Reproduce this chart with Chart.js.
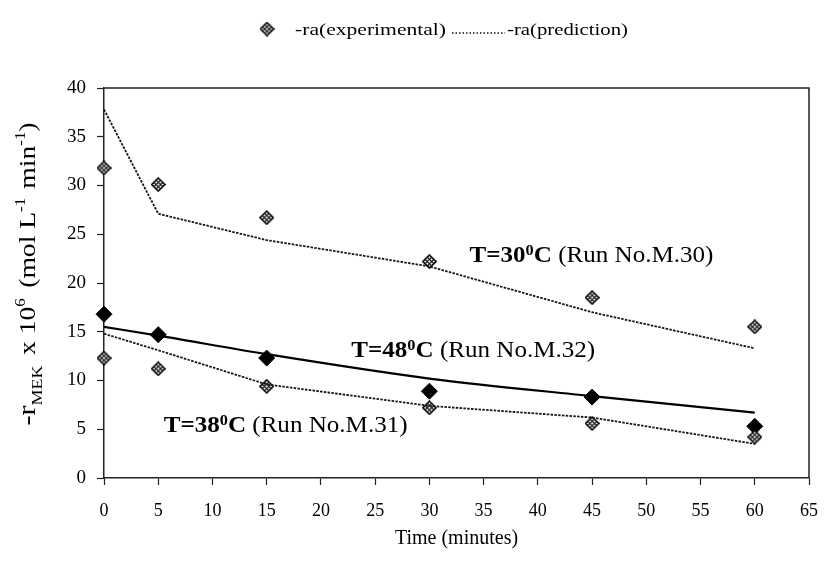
<!DOCTYPE html>
<html>
<head>
<meta charset="utf-8">
<script src="https://cdn.jsdelivr.net/npm/chart.js@4.4.0/dist/chart.umd.min.js"></script>
<style>
  html, body { margin: 0; padding: 0; background: #fff; }
  #wrap { width: 833px; height: 561px; }
</style>
</head>
<body>
<div id="wrap"><canvas id="c" width="833" height="561"></canvas></div>
<script>
// Sampling times (minutes)
const times = [0, 5, 15, 30, 45, 60];

// T = 30 °C (Run No. M.30)
const exp30  = [31.8, 30.1, 26.7, 22.2, 18.5, 15.5];
const pred30 = [37.8, 27.1, 24.4, 21.7, 17.0, 13.3];

// T = 38 °C (Run No. M.31)
const exp38  = [12.3, 11.2, 9.4, 7.2, 5.6, 4.2];
const pred38 = [14.8, 13.1, 9.6, 7.4, 6.2, 3.5];

// T = 48 °C (Run No. M.32)
const exp48  = [16.8, 14.7, 12.3, 8.9, 8.3, 5.3];
const fit48  = [15.5, 14.6, 12.7, 10.2, 8.4, 6.7];

// Axis ticks
const xTicks = [0, 5, 10, 15, 20, 25, 30, 35, 40, 45, 50, 55, 60, 65];
const yTicks = [0, 5, 10, 15, 20, 25, 30, 35, 40];

// Run labels placed in data coordinates
const runTemps = ['30', '48', '38'];
const runIds   = ['M.30', 'M.32', 'M.31'];
const runX     = [33.7, 22.8, 5.5];
const runY     = [22.2, 12.4, 4.7];

const SERIF = '"Liberation Serif", "Times New Roman", serif';

function pts(ys) { return times.map((t, i) => ({ x: t, y: ys[i] })); }

// Cross-hatched diamond marker
function hatchDiamond(size) {
  const c = document.createElement('canvas');
  c.width = c.height = size;
  const g = c.getContext('2d');
  const m = size / 2, r = size / 2 - 1;
  const path = () => {
    g.beginPath();
    g.moveTo(m, m - r); g.lineTo(m + r, m); g.lineTo(m, m + r); g.lineTo(m - r, m);
    g.closePath();
  };
  path();
  g.fillStyle = '#fff'; g.fill();
  g.save(); path(); g.clip();
  g.strokeStyle = '#000'; g.lineWidth = 1.1;
  for (const k of [-r / 3, r / 3]) {
    g.beginPath();
    g.moveTo(m + k / 2 - r, m - k / 2 - r); g.lineTo(m + k / 2 + r, m - k / 2 + r);
    g.stroke();
    g.beginPath();
    g.moveTo(m + k / 2 - r, m + k / 2 + r); g.lineTo(m + k / 2 + r, m + k / 2 - r);
    g.stroke();
  }
  g.restore();
  path();
  g.strokeStyle = '#000'; g.lineWidth = 1.6; g.stroke();
  return c;
}
const hatchMark = hatchDiamond(15);

// Draws a run of text pieces (with sub/superscripts) stretched horizontally
function richWidth(ctx, parts) {
  let w = 0;
  for (const p of parts) { ctx.font = p.font; w += ctx.measureText(p.text).width + (p.gap || 0); }
  return w;
}
function drawRich(ctx, parts, x, y, stretch) {
  ctx.save();
  ctx.translate(x, y);
  ctx.scale(stretch, 1);
  ctx.textAlign = 'left';
  ctx.textBaseline = 'alphabetic';
  ctx.fillStyle = '#000';
  let cx = 0;
  for (const p of parts) {
    ctx.font = p.font;
    ctx.fillText(p.text, cx, p.dy || 0);
    cx += ctx.measureText(p.text).width + (p.gap || 0);
  }
  ctx.restore();
}

const decorPlugin = {
  id: 'decor',
  afterDatasetsDraw(chart) {
    const { ctx, chartArea: a, scales } = chart;
    // box frame around the plot
    ctx.save();
    ctx.strokeStyle = '#222';
    ctx.lineWidth = 1.5;
    ctx.beginPath();
    ctx.moveTo(a.left, a.top); ctx.lineTo(a.right, a.top); ctx.lineTo(a.right, a.bottom);
    ctx.stroke();
    ctx.restore();

    // run labels
    for (let i = 0; i < runTemps.length; i++) {
      const px = scales.x.getPixelForValue(runX[i]);
      const py = scales.y.getPixelForValue(runY[i]);
      drawRich(ctx, [
        { text: 'T=' + runTemps[i], font: 'bold 23px ' + SERIF },
        { text: '0', font: 'bold 15px ' + SERIF, dy: -7 },
        { text: 'C', font: 'bold 23px ' + SERIF },
        { text: ' (Run No.' + runIds[i] + ')', font: '23px ' + SERIF }
      ], px, py, 1.09);
    }
  },
  afterDraw(chart) {
    const { ctx } = chart;
    // y-axis title, rotated
    const parts = [
      { text: '-r', font: '25px ' + SERIF },
      { text: 'MEK', font: '15px ' + SERIF, dy: 7, gap: 3 },
      { text: ' x 10', font: '23px ' + SERIF },
      { text: '6', font: '14px ' + SERIF, dy: -10, gap: 3 },
      { text: ' (mol L', font: '23px ' + SERIF },
      { text: '-1', font: '14px ' + SERIF, dy: -10, gap: 2 },
      { text: ' min', font: '23px ' + SERIF },
      { text: '-1', font: '14px ' + SERIF, dy: -10 },
      { text: ')', font: '23px ' + SERIF }
    ];
    const stretch = 1.2;
    const w = richWidth(ctx, parts) * stretch;
    ctx.save();
    ctx.translate(35, 274);
    ctx.rotate(-Math.PI / 2);
    drawRich(ctx, parts, -w / 2, 0, stretch);
    ctx.restore();

    // legend
    ctx.save();
    ctx.drawImage(hatchMark, 267 - 7.5, 29 - 7.5);
    drawRich(ctx, [{ text: '-ra(experimental)', font: '17px ' + SERIF }], 295, 35, 1.27);
    ctx.strokeStyle = '#111';
    ctx.lineWidth = 1.6;
    ctx.setLineDash([1.5, 2]);
    ctx.beginPath(); ctx.moveTo(452, 33); ctx.lineTo(505, 33); ctx.stroke();
    ctx.setLineDash([]);
    drawRich(ctx, [{ text: '-ra(prediction)', font: '17px ' + SERIF }], 507, 35, 1.22);
    ctx.restore();
  }
};

const dashed = { borderColor: '#151515', borderWidth: 1.8, borderDash: [2.5, 1.3], pointRadius: 0, fill: false, clip: false };
const hatched = { showLine: false, pointStyle: hatchMark, pointRadius: 7.5, clip: false };

new Chart(document.getElementById('c'), {
  type: 'line',
  data: {
    datasets: [
      Object.assign({ label: 'pred30', data: pts(pred30) }, dashed),
      Object.assign({ label: 'pred38', data: pts(pred38) }, dashed),
      { label: 'fit48', data: pts(fit48), borderColor: '#000', borderWidth: 2.2, pointRadius: 0,
        cubicInterpolationMode: 'monotone', fill: false, clip: false },
      Object.assign({ label: 'exp30', data: pts(exp30) }, hatched),
      Object.assign({ label: 'exp38', data: pts(exp38) }, hatched),
      { label: 'exp48', data: pts(exp48), showLine: false, pointStyle: 'rectRot', pointRadius: 8,
        pointBackgroundColor: '#000', pointBorderColor: '#000', pointBorderWidth: 1, clip: false }
    ]
  },
  options: {
    responsive: false,
    animation: false,
    devicePixelRatio: 1,
    layout: { padding: { top: 88, right: 13, left: 0, bottom: 0 } },
    plugins: { legend: { display: false }, tooltip: { enabled: false } },
    scales: {
      x: {
        type: 'linear', min: 0, max: 65,
        afterFit(s) { s.height = 83; },
        afterBuildTicks(s) { s.ticks = xTicks.map(v => ({ value: v })); },
        border: { display: true, color: '#222', width: 1.5 },
        grid: { drawOnChartArea: false, drawTicks: true, tickLength: 7, tickColor: '#222', tickWidth: 1.2 },
        ticks: { autoSkip: false, maxRotation: 0, padding: 15, color: '#000',
                 font: { family: SERIF, size: 18 } },
        title: { display: true, text: 'Time (minutes)', color: '#000',
                 font: { family: SERIF, size: 20 }, padding: { top: 0, bottom: 10 } }
      },
      y: {
        type: 'linear', min: 0, max: 40,
        afterFit(s) { s.width = 104; },
        afterBuildTicks(s) { s.ticks = yTicks.map(v => ({ value: v })); },
        border: { display: true, color: '#222', width: 1.5 },
        grid: { drawOnChartArea: false, drawTicks: true, tickLength: 7, tickColor: '#222', tickWidth: 1.2 },
        ticks: { padding: 11, color: '#000', font: { family: SERIF, size: 19 } }
      }
    }
  },
  plugins: [decorPlugin]
});
</script>
</body>
</html>
